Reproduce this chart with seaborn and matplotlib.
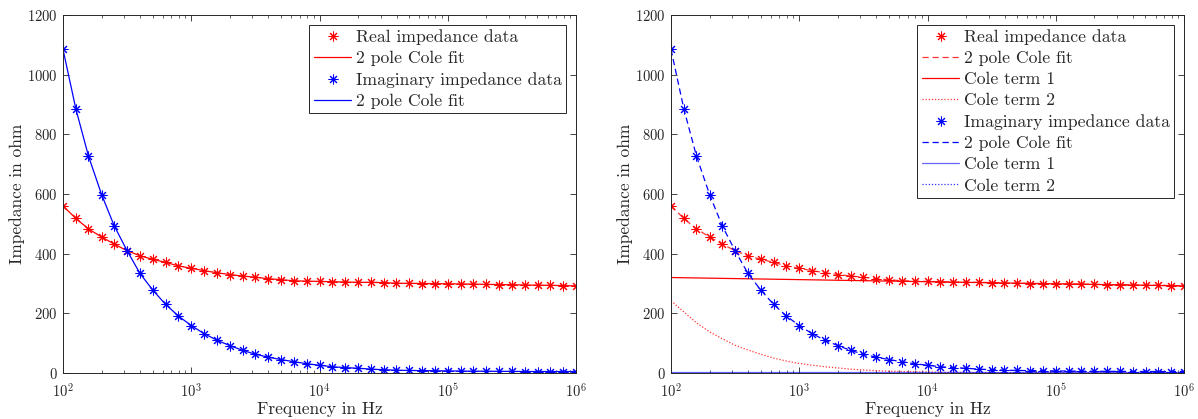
import matplotlib
matplotlib.use("Agg")
import matplotlib.pyplot as plt
import seaborn as sns
import pandas as pd
from matplotlib.ticker import FixedLocator, LogLocator, NullFormatter

# ---------------- data ----------------
freq = [100, 126, 158, 200, 251, 316, 398, 501, 631, 794,
        1000, 1259, 1585, 1995, 2512, 3162, 3981, 5012, 6310, 7943,
        10000, 12589, 15849, 19953, 25119, 31623, 39811, 50119, 63096, 79433,
        100000, 125893, 158489, 199526, 251189, 316228, 398107, 501187, 630957, 794328,
        1000000]

real_data = [560, 518, 483, 456, 432, 410, 393, 381, 371, 359,
             351, 343, 336, 330, 325, 321, 316, 313, 309, 308,
             307, 306, 305, 304, 304, 303, 301, 300.5, 300, 299.5,
             299, 298.5, 298, 297, 296.5, 296, 295, 294.5, 294, 293,
             292]

imag_data = [1085, 885, 727, 598, 493, 410, 334, 278, 230, 191,
             159, 132, 110, 92, 76, 63, 53, 45, 38, 31,
             26, 21, 18, 16, 13, 11, 9.5, 8.5, 8, 7.5,
             7, 6.5, 6, 6, 5.5, 5.5, 5, 5, 5, 5,
             5]

real_fit = real_data
imag_fit = imag_data

real_term1 = [320, 319.3, 318.6, 317.9, 317.2, 316.5, 315.8, 315.1, 314.4, 313.7,
              313, 312.3, 311.6, 310.9, 310.2, 309.5, 308.8, 308.1, 307.4, 306.7,
              306, 305.3, 304.6, 303.9, 303.2, 302.5, 301.8, 301.1, 300.4, 299.7,
              299, 298.3, 297.6, 296.9, 296.2, 295.5, 294.8, 294.1, 293.4, 292.7,
              292]

real_term2 = [242, 205, 168, 138, 115, 93, 77, 63, 50, 40,
              32, 26, 21, 17, 13, 10, 8, 6, 5, 4,
              3, 2.5, 2, 1.5, 1.2, 1, 0.8, 0.6, 0.5, 0.4,
              0.3, 0.25, 0.2, 0.15, 0.1, 0.1, 0.1, 0.1, 0.1, 0.1,
              0.1]

imag_term1 = [4] * 41
imag_term2 = [1] * 41

y_ticks = [0, 200, 400, 600, 800, 1000, 1200]
x_ticks = [1e2, 1e3, 1e4, 1e5, 1e6]

# ---------------- style ----------------
sns.set_style("ticks")
plt.rcParams["font.family"] = ["cmr10", "DejaVu Serif"]
plt.rcParams["mathtext.fontset"] = "cm"
plt.rcParams["axes.formatter.use_mathtext"] = True
plt.rcParams["axes.unicode_minus"] = False

RED = (1, 0, 0)
BLUE = (0, 0, 1)
AST = (8, 2, 0)
LW = 0.9

df = pd.DataFrame({
    "freq": freq, "real_data": real_data, "imag_data": imag_data,
    "real_fit": real_fit, "imag_fit": imag_fit,
    "real_t1": real_term1, "real_t2": real_term2,
    "imag_t1": imag_term1, "imag_t2": imag_term2,
})

fig = plt.figure(figsize=(11.98, 4.19), dpi=100)
W, H = 1198, 419
ax1 = fig.add_axes([63 / W, 1 - 373 / H, 513 / W, 358 / H])
ax2 = fig.add_axes([671 / W, 1 - 373 / H, 513 / W, 358 / H])


def data_series(ax, col, color, label):
    sns.lineplot(data=df, x="freq", y=col, ax=ax, linestyle="", marker=AST,
                 markersize=7, markeredgewidth=0.75, markeredgecolor=color,
                 color=color, label=label)


def line_series(ax, col, color, ls, label, alpha=1.0):
    sns.lineplot(data=df, x="freq", y=col, ax=ax, color=color, linestyle=ls,
                 linewidth=LW, label=label, alpha=alpha)


# left panel
data_series(ax1, "real_data", RED, "Real impedance data")
line_series(ax1, "real_fit", RED, "-", "2 pole Cole fit")
data_series(ax1, "imag_data", BLUE, "Imaginary impedance data")
line_series(ax1, "imag_fit", BLUE, "-", "2 pole Cole fit")

# right panel
data_series(ax2, "real_data", RED, "Real impedance data")
line_series(ax2, "real_fit", RED, (0, (5, 3)), "2 pole Cole fit", alpha=0.8)
line_series(ax2, "real_t1", RED, "-", "Cole term 1")
line_series(ax2, "real_t2", RED, (0, (1, 1.5)), "Cole term 2", alpha=0.8)
data_series(ax2, "imag_data", BLUE, "Imaginary impedance data")
line_series(ax2, "imag_fit", BLUE, (0, (5, 3)), "2 pole Cole fit")
line_series(ax2, "imag_t1", BLUE, "-", "Cole term 1", alpha=0.6)
line_series(ax2, "imag_t2", BLUE, (0, (1, 1.5)), "Cole term 2", alpha=0.8)

for ax in (ax1, ax2):
    ax.set_xscale("log")
    ax.set_xlim(1e2, 1e6)
    ax.set_ylim(0, 1200)
    ax.yaxis.set_major_locator(FixedLocator(y_ticks))
    ax.xaxis.set_major_locator(FixedLocator(x_ticks))
    ax.xaxis.set_minor_locator(LogLocator(base=10, subs=range(2, 10)))
    ax.xaxis.set_minor_formatter(NullFormatter())
    ax.set_xlabel("Frequency in Hz", fontsize=12.5, color="#262626", labelpad=0.5)
    ax.set_ylabel("Impedance in ohm", fontsize=12.5, color="#262626", labelpad=1)
    ax.tick_params(axis="both", which="both", direction="in", top=True, right=True,
                   labelsize=10.5, colors="#262626")
    ax.tick_params(axis="y", which="major", length=4.5, width=0.6, pad=4)
    ax.tick_params(axis="x", which="major", length=4.5, width=0.6, pad=7)
    ax.tick_params(axis="both", which="minor", length=2.5, width=0.5)
    for s in ax.spines.values():
        s.set_visible(True)
        s.set_linewidth(0.7)
        s.set_color("#262626")
    ax.set_facecolor("white")

leg_kw = dict(frameon=True, fancybox=False, shadow=False, framealpha=1,
              edgecolor="#262626", fontsize=12.7, handlelength=2.15,
              handletextpad=0.25, borderpad=0.25, labelspacing=0.33,
              borderaxespad=0.55, loc="upper right")
l1 = ax1.legend(**leg_kw)
l2 = ax2.legend(**leg_kw)
for lg in (l1, l2):
    lg.get_frame().set_linewidth(0.7)

fig.savefig("out.png", dpi=100)
